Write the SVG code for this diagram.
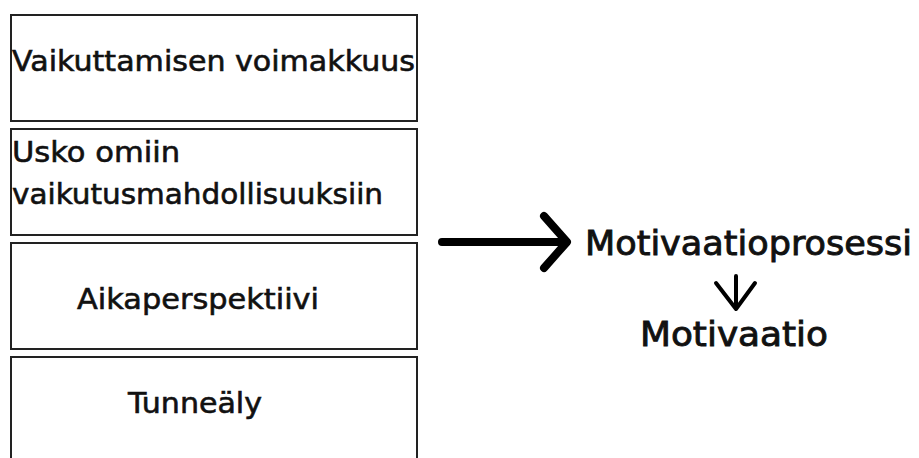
<svg xmlns="http://www.w3.org/2000/svg" width="919" height="458" viewBox="0 0 919 458">
<style>
.box{fill:#fff;stroke:#222;stroke-width:2}
.t{font-family:"DejaVu Sans",sans-serif;font-size:28px;fill:#111;stroke:#111;stroke-width:0.6}
.r{font-family:"DejaVu Sans",sans-serif;font-size:34px;fill:#111;stroke:#111;stroke-width:0.9}
.conn{stroke:#000;fill:none;stroke-linecap:round;stroke-linejoin:round}
</style>
<rect width="919" height="458" fill="#fff"/>
<g id="n1"><rect class="box" x="11" y="15" width="406" height="106"/><text class="t" x="12" y="71" textLength="403" lengthAdjust="spacingAndGlyphs">Vaikuttamisen voimakkuus</text></g>
<g id="n2"><rect class="box" x="11" y="129" width="406" height="106"/><text class="t" x="12" y="162" textLength="168" lengthAdjust="spacingAndGlyphs">Usko omiin</text><text class="t" x="12" y="204" textLength="371" lengthAdjust="spacingAndGlyphs">vaikutusmahdollisuuksiin</text></g>
<g id="n3"><rect class="box" x="11" y="243" width="406" height="106"/><text class="t" x="77" y="309" textLength="242" lengthAdjust="spacingAndGlyphs">Aikaperspektiivi</text></g>
<g id="n4"><rect class="box" x="11" y="357" width="406" height="110"/><text class="t" x="128" y="413" textLength="134" lengthAdjust="spacingAndGlyphs">Tunneäly</text></g>
<g id="n5"><text class="r" x="585" y="255" textLength="327" lengthAdjust="spacingAndGlyphs">Motivaatioprosessi</text></g>
<g id="n6"><text class="r" x="640" y="346" textLength="188" lengthAdjust="spacingAndGlyphs">Motivaatio</text></g>
<g id="connectors">
<path class="conn" stroke-width="8" d="M442 242H566M544 216L567 242L544 268"/>
<path class="conn" stroke-width="4" d="M736 276V309M716 283L736 309L755 283"/>
</g>
</svg>
